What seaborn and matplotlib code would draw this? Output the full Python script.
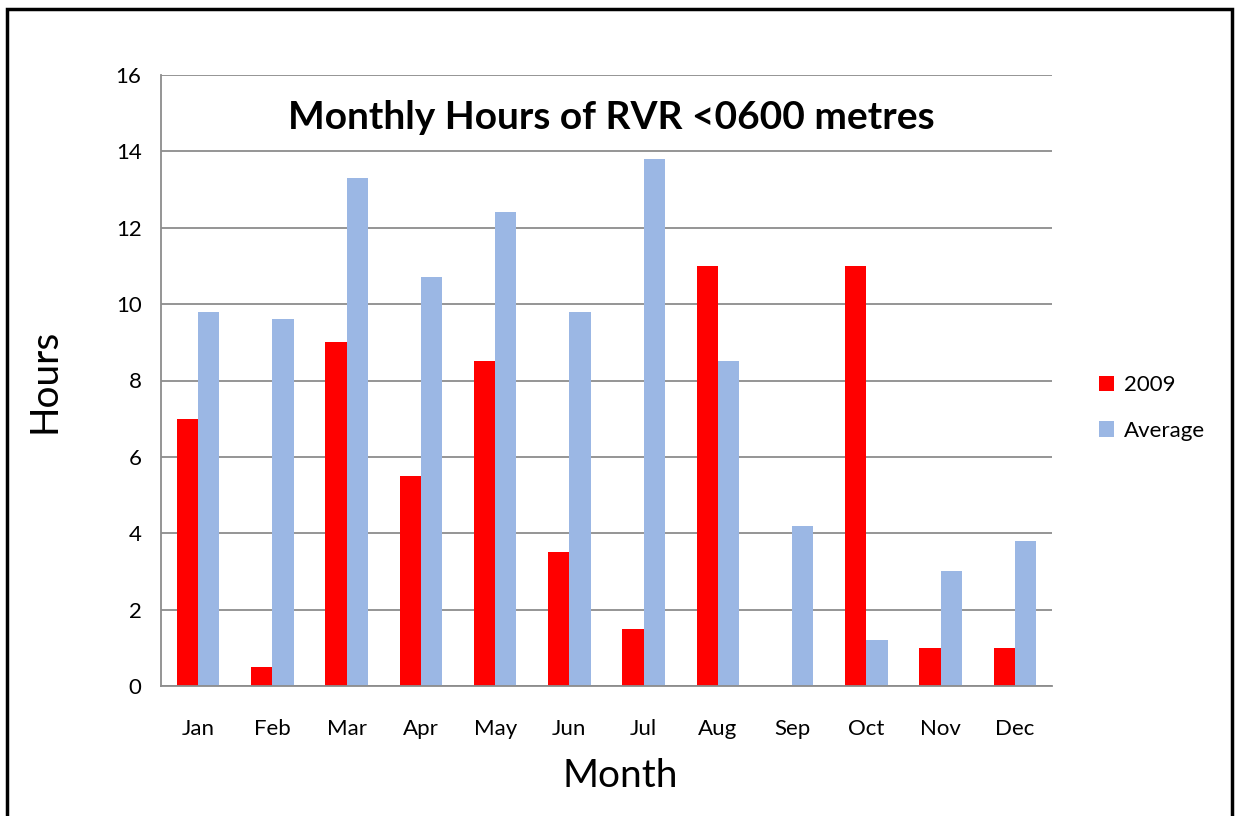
import matplotlib
matplotlib.use("Agg")
import matplotlib.pyplot as plt
import seaborn as sns
import pandas as pd

months = ["Jan", "Feb", "Mar", "Apr", "May", "Jun", "Jul", "Aug", "Sep", "Oct", "Nov", "Dec"]
hours_2009 = [7, 0.5, 9, 5.5, 8.5, 3.5, 1.5, 11, 0, 11, 1, 1]
hours_avg = [9.8, 9.6, 13.3, 10.7, 12.4, 9.8, 13.8, 8.5, 4.2, 1.2, 3, 3.8]
series = ["2009", "Average"]
yticks = [0, 2, 4, 6, 8, 10, 12, 14, 16]

df = pd.DataFrame({
    "Month": months * 2,
    "Hours": hours_2009 + hours_avg,
    "Series": [series[0]] * len(months) + [series[1]] * len(months),
})

sns.set_style("white")
plt.rcParams["font.family"] = ["Lato", "DejaVu Sans"]
plt.rcParams["text.color"] = "black"
plt.rcParams["axes.labelcolor"] = "black"
plt.rcParams["xtick.color"] = "black"
plt.rcParams["ytick.color"] = "black"

fig = plt.figure(figsize=(12.4, 8.16), dpi=100)
ax = fig.add_axes([161 / 1240, 1 - 686 / 816, (1052 - 161) / 1240, (686 - 75) / 816])

sns.barplot(data=df, x="Month", y="Hours", hue="Series", order=months,
            hue_order=series, palette=["#ff0000", "#9bb7e4"], width=0.57,
            saturation=1, linewidth=0, ax=ax)

grey = "#8c8c8c"
ax.set_ylim(0, 16)
ax.set_xlim(-0.5, 11.5)
ax.set_yticks(yticks)
ax.yaxis.grid(True, color=grey, linewidth=1.3)
ax.set_axisbelow(True)
for s in ["top", "right"]:
    ax.spines[s].set_visible(False)
for s in ["left", "bottom"]:
    ax.spines[s].set_color(grey)
    ax.spines[s].set_linewidth(1.3)

ax.set_xticks([i - 0.5 for i in range(13)], minor=True)
ax.tick_params(axis="x", which="minor", length=8, width=1.3, color=grey, direction="out")
ax.tick_params(axis="x", which="major", length=0, labelsize=16, pad=24)
ax.tick_params(axis="y", length=8, width=1.3, color=grey, direction="out", labelsize=16, pad=6)

ax.set_xlabel("Month", fontsize=28)
ax.xaxis.set_label_coords(0.515, -0.118)
ax.set_ylabel("Hours", fontsize=28, labelpad=38)
ax.text(0.505, 0.93, "Monthly Hours of RVR <0600 metres", transform=ax.transAxes,
        ha="center", va="center", fontsize=28, fontweight="bold")

leg = ax.legend(loc="center left", bbox_to_anchor=(1.03, 0.455), frameon=False,
                fontsize=16, handlelength=0.7, handleheight=0.7, handletextpad=0.45,
                labelspacing=1.15)

# outer frame like the pasted chart object
fig.patches.append(plt.Rectangle((7 / 1240, -0.05), (1232 - 7) / 1240, 1.05 - 9 / 816,
                                 transform=fig.transFigure, fill=False,
                                 edgecolor="black", linewidth=2.5, zorder=10))

fig.savefig("out.png", dpi=100)
